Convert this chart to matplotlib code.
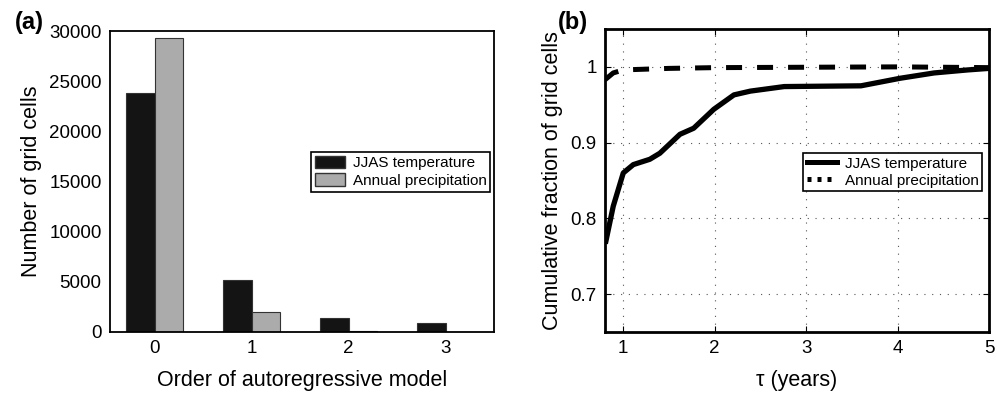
'''
Two-panel figure: AR model order histogram and cumulative fraction vs tau
'''

import matplotlib as mpl
import matplotlib.pyplot as plt
from matplotlib.lines import Line2D
from matplotlib.patches import Patch
import numpy as np

mpl.rcParams['font.family'] = ['Liberation Sans', 'DejaVu Sans']
mpl.rcParams['font.size'] = 13.5
mpl.rcParams['xtick.labelsize'] = 13.5
mpl.rcParams['ytick.labelsize'] = 13.5

# panel (a) data
orders = [0, 1, 2, 3]
temp_counts = [23800, 5200, 1400, 850]
precip_counts = [29300, 2000, 60, 10]

# panel (b) data
tau_temp = [0.81, 0.89, 1.0, 1.11, 1.29, 1.40, 1.62, 1.77, 1.99, 2.21, 2.39,
            2.76, 3.6, 4.03, 4.40, 4.77, 5.0]
frac_temp = [0.770, 0.816, 0.860, 0.871, 0.878, 0.886, 0.911, 0.919, 0.944,
             0.963, 0.968, 0.974, 0.975, 0.985, 0.992, 0.996, 0.998]
tau_precip = [0.8, 0.89, 1.0, 1.5, 2.0, 3.0, 4.0, 5.0]
frac_precip = [0.983, 0.992, 0.996, 0.998, 0.999, 0.9995, 1.0, 0.999]

labels = ['JJAS temperature', 'Annual precipitation']
dark = '#141414'
grey = '#ababab'

fig = plt.figure(figsize=(9.97, 3.93), dpi=100)

## panel (a)
ax1 = fig.add_axes([110/997, 61/393, 384/997, 301/393])
x = np.array(orders)
w = 0.29
ax1.bar(x - w/2, temp_counts, w, color=dark, edgecolor='#333333', linewidth=0.8)
ax1.bar(x + w/2, precip_counts, w, color=grey, edgecolor='#333333', linewidth=0.8)
ax1.set_xlim(-0.46, 3.5)
ax1.set_ylim(0, 30000)
ax1.set_xticks(orders)
ax1.set_yticks(np.arange(0, 30001, 5000))
ax1.tick_params(direction='in', length=0, pad=6)
for s in ax1.spines.values():
    s.set_linewidth(1.3)
ax1.set_xlabel('Order of autoregressive model', fontsize=15.5, labelpad=9)
ax1.set_ylabel('Number of grid cells', fontsize=15.5, labelpad=5)

h1 = [Patch(facecolor=dark, edgecolor='#333333'),
      Patch(facecolor=grey, edgecolor='#333333')]
leg1 = ax1.legend(h1, labels, loc='upper left',
                  bbox_to_anchor=(310.7/997, 1 - 151.7/393),
                  bbox_transform=fig.transFigure, borderaxespad=0,
                  fancybox=False, framealpha=1, edgecolor='k', fontsize=11,
                  handlelength=2.0, handleheight=0.9, handletextpad=0.5,
                  borderpad=0.25, labelspacing=0.2)
leg1.get_frame().set_linewidth(1.2)

fig.text(15/997, 1 - 23/393, '(a)', fontsize=17, fontweight='bold',
         va='center', ha='left')

## panel (b)
ax2 = fig.add_axes([605/997, 61/393, 384/997, 303/393])
ax2.plot(tau_temp, frac_temp, color='k', linewidth=3.8,
         solid_joinstyle='round')
ax2.plot(tau_precip, frac_precip, color='k', linewidth=3.6,
         dashes=(3.2, 3.0), dash_capstyle='butt')
ax2.set_xlim(0.8, 5)
ax2.set_ylim(0.65, 1.05)
ax2.set_xticks([1, 2, 3, 4, 5])
ax2.set_yticks([0.7, 0.8, 0.9, 1.0])
ax2.set_yticklabels(['0.7', '0.8', '0.9', '1'])
ax2.grid(True, linestyle=(0, (1, 6)), color='#555555', linewidth=0.8)
ax2.tick_params(direction='in', length=4, top=True, right=True, pad=6)
for s in ax2.spines.values():
    s.set_linewidth(2.0)
ax2.set_xlabel('\u03c4 (years)', fontsize=15.5, labelpad=9)
ax2.set_ylabel('Cumulative fraction of grid cells', fontsize=15.5, labelpad=5)

h2 = [Line2D([], [], color='k', linewidth=3.6),
      Line2D([], [], color='k', linewidth=3.6, dashes=(0.8, 1.2))]
leg2 = ax2.legend(h2, labels, loc='upper left',
                  bbox_to_anchor=(802.7/997, 1 - 152.7/393),
                  bbox_transform=fig.transFigure, borderaxespad=0,
                  fancybox=False, framealpha=1, edgecolor='k', fontsize=11,
                  handlelength=2.0, handletextpad=0.5,
                  borderpad=0.25, labelspacing=0.2)
leg2.get_frame().set_linewidth(1.2)

fig.text(558/997, 1 - 23/393, '(b)', fontsize=17, fontweight='bold',
         va='center', ha='left')

fig.savefig('out.png', dpi=100)
